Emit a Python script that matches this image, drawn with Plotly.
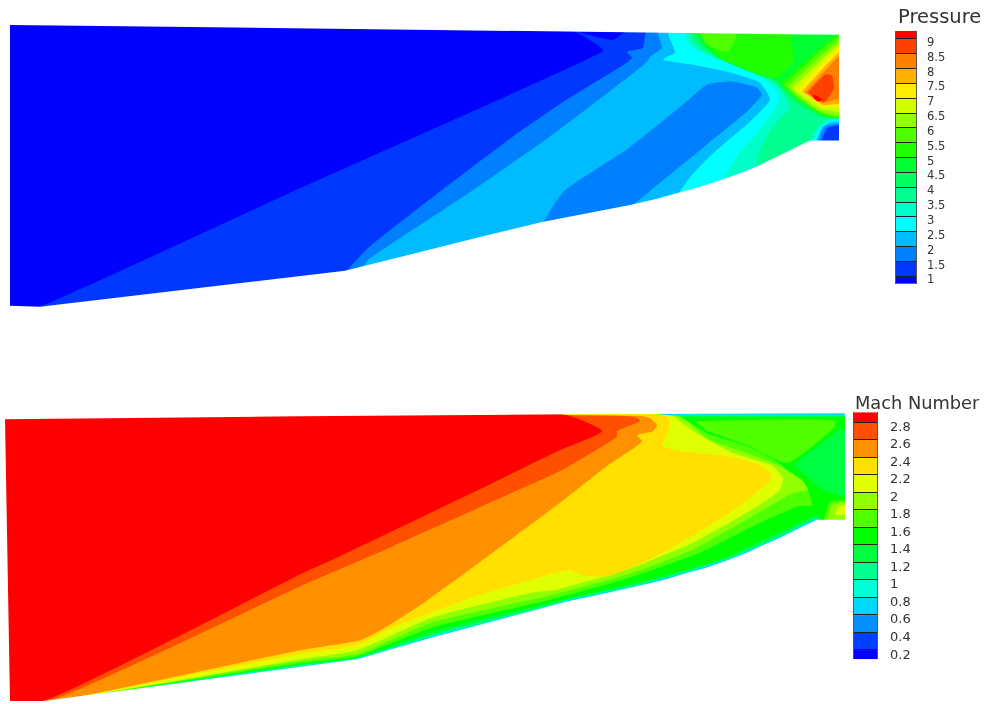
import plotly.graph_objects as go

# ---------- colour bars ----------
P_TICKS = [1, 1.5, 2, 2.5, 3, 3.5, 4, 4.5, 5, 5.5, 6, 6.5, 7, 7.5, 8, 8.5, 9]
P_TICK_TEXT = ["1", "1.5", "2", "2.5", "3", "3.5", "4", "4.5", "5", "5.5", "6", "6.5", "7", "7.5", "8", "8.5", "9"]
P_EDGES = [0.75] + P_TICKS + [9.27]
P_COLORS = ["#0000ff", "#0038ff", "#0080ff", "#00bcff", "#00ffff", "#00ffc8", "#00ff90", "#00ff60", "#00ff30",
            "#20ff00", "#50ff00", "#90ff00", "#d0ff00", "#ffee00", "#ffb000", "#ff8000", "#ff4000", "#ff0000"]
M_TICKS = [0.2, 0.4, 0.6, 0.8, 1, 1.2, 1.4, 1.6, 1.8, 2, 2.2, 2.4, 2.6, 2.8]
M_TICK_TEXT = ["0.2", "0.4", "0.6", "0.8", "1", "1.2", "1.4", "1.6", "1.8", "2", "2.2", "2.4", "2.6", "2.8"]
M_EDGES = [0.095] + M_TICKS + [2.913]
M_COLORS = ["#0000ff", "#0040ff", "#0090ff", "#00d8ff", "#00ffd8", "#00ff90", "#00ff40", "#00ff00",
            "#50ff00", "#90ff00", "#e0ff00", "#ffe000", "#ff9000", "#ff5000", "#ff0000"]

# ---------- nozzle outlines ----------
P_WALL = [(10, 25), (10, 307), (40, 308), (150, 295), (300, 277), (345, 272), (365, 267), (420, 253), (480, 238),
          (542, 223), (590, 214), (630, 206), (655, 200), (678, 194), (700, 187.5), (720, 181), (740, 174), (757, 167),
          (772, 160), (785, 153.5), (798, 147), (810, 141), (839, 141), (839, 35), (10, 25)]
M_WALL = [(5, 421), (10, 704), (43, 704), (150, 690), (300, 670), (357, 662), (433, 640), (547, 610), (567, 604),
          (600, 597), (637, 589), (662, 583), (685, 576), (707, 570), (727, 563), (747, 555), (764, 547), (778, 541),
          (790, 535), (804, 528), (817, 522), (845, 522), (845, 415), (575, 416), (300, 418), (5, 421)]

# ---------- pressure contour regions: (band, outline) painted low to high ----------
P_R01 = [(0, 0), (860, 0), (860, 330), (0, 330)]
P_R00 = [(0, 0), (572, 31), (603, 50), (602, 52), (300, 189), (40, 308), (0, 320)]
P_R00B = [(578, 32), (613, 40), (625, 32)]
P_R02 = [(345, 274), (367, 250), (443, 190), (513, 137), (567, 100), (628, 62), (632, 58), (627, 52), (643, 48),
         (647, 30), (860, 20), (860, 300), (345, 300)]
P_R03 = [(362, 270), (367, 262), (467, 195), (550, 137), (647, 62), (650, 57), (662, 48), (658, 30), (860, 20),
         (860, 300), (362, 300)]
P_R02B = [(542, 225), (563, 193), (627, 150), (683, 105), (707, 85), (733, 82), (757, 88), (762, 95), (747, 112),
          (707, 145), (630, 208)]
P_R04 = [(676, 198), (690, 178), (712, 155), (750, 122), (770, 100), (760, 83), (727, 72), (693, 65), (663, 60),
         (667, 57), (675, 53), (668, 30), (860, 20), (860, 300), (676, 300)]
P_R05 = [(722, 182), (740, 153), (760, 130), (780, 100), (776, 90), (762, 78), (733, 65), (700, 52), (688, 43),
         (685, 30), (860, 20), (860, 300), (722, 300)]
P_R06 = [(756, 170), (760, 150), (773, 127), (790, 108), (784, 95), (773, 80), (747, 70), (712, 57), (695, 45),
         (688, 30), (860, 20), (860, 300), (756, 300)]
P_R07 = [(690, 30), (700, 45), (717, 57), (750, 72), (778, 84), (790, 100), (800, 106), (820, 117), (860, 125),
         (860, 20), (690, 20)]
P_R08 = [(693, 30), (705, 47), (722, 60), (752, 73), (775, 80), (786, 90), (800, 100), (820, 112), (860, 118),
         (860, 20), (693, 20)]
P_R09 = [(697, 30), (710, 48), (725, 61), (755, 73), (777, 78), (793, 63), (790, 30), (790, 20), (697, 20)]
P_R10 = [(698, 30), (707, 45), (727, 52), (735, 40), (737, 30)]
P_H09 = [(780, 84), (838, 34), (860, 34), (860, 123), (820, 115), (797, 100)]
P_H10 = [(784, 85), (838, 37), (860, 37), (860, 121), (820, 113), (797, 98)]
P_H11 = [(788, 87), (840, 40), (860, 40), (860, 118), (820, 112), (797, 96)]
P_H12 = [(793, 88), (840, 44), (860, 44), (860, 114), (820, 109), (798, 94)]
P_H13 = [(798, 90), (840, 47), (860, 47), (860, 108), (822, 107)]
P_H14 = [(802, 92), (840, 52), (860, 52), (860, 103), (823, 106)]
P_H15 = [(805, 93), (840, 56), (860, 56), (860, 96), (825, 103)]
P_H16 = [(808, 93), (825, 75), (832, 76), (834, 88), (824, 103), (815, 100)]
P_H17 = [(813, 95), (818, 97), (822, 100), (818, 102), (814, 99)]
P_C05 = [(808, 145), (815, 132), (826, 120), (860, 118), (860, 145)]
P_C04 = [(812, 145), (818, 130), (827, 122), (860, 120), (860, 145)]
P_C03 = [(815, 145), (822, 128), (830, 123), (860, 121), (860, 145)]
P_C02 = [(817, 145), (825, 127), (860, 123), (860, 145)]
P_C01 = [(820, 145), (828, 128), (860, 125), (860, 145)]
P_REGIONS = [(1, P_R01), (0, P_R00), (0, P_R00B), (2, P_R02), (3, P_R03), (2, P_R02B), (4, P_R04), (5, P_R05),
             (6, P_R06), (7, P_R07), (8, P_R08), (9, P_R09), (10, P_R10), (9, P_H09), (10, P_H10), (11, P_H11),
             (12, P_H12), (13, P_H13), (14, P_H14), (15, P_H15), (16, P_H16), (17, P_H17),
             (5, P_C05), (4, P_C04), (3, P_C03), (2, P_C02), (1, P_C01)]

# ---------- Mach contour regions ----------
M_R03 = [(0, 390), (860, 390), (860, 704), (0, 704)]
M_R05 = [(0, 417), (300, 419), (575, 417), (860, 416.5), (860, 530), (817, 521), (790, 534), (764, 546), (727, 562),
         (685, 575), (637, 588), (567, 603), (547, 609), (433, 639), (357, 661), (300, 669), (43, 704), (0, 704)]
M_R06 = [(0, 418), (300, 420), (575, 418), (860, 417.5), (860, 530), (817, 520), (790, 533), (764, 545), (727, 561),
         (685, 574), (637, 587), (567, 602), (547, 608), (433, 637), (357, 661), (300, 668), (43, 704), (0, 704)]
M_R07 = [(0, 419), (575, 419), (860, 419), (860, 530), (820, 522), (817, 517), (790, 530), (760, 543), (727, 559),
         (693, 570), (637, 585), (547, 606), (433, 634), (357, 660), (300, 667), (46, 704), (0, 704)]
M_R08 = [(0, 419), (680, 418), (688, 423), (707, 435), (747, 448), (783, 468), (793, 482), (808, 493), (812, 508),
         (800, 508), (760, 525), (700, 555), (627, 581), (547, 603), (433, 630), (357, 659), (300, 666), (47, 704), (0, 704)]
M_R09 = [(0, 419), (677, 418), (687, 423), (710, 442), (747, 455), (780, 468), (803, 483), (808, 492), (793, 495),
         (753, 518), (693, 552), (627, 577), (550, 598), (433, 625), (357, 657), (300, 664), (48, 704), (0, 704)]
M_R10 = [(0, 419), (673, 418), (682, 425), (700, 437), (733, 455), (773, 468), (783, 480), (780, 492), (750, 513),
         (693, 545), (627, 572), (557, 592), (533, 595), (433, 620), (357, 653), (300, 662), (49, 704), (0, 704)]
M_R11 = [(0, 419), (667, 418), (670, 425), (667, 438), (662, 447), (673, 452), (727, 458), (760, 467), (772, 477),
         (770, 483), (740, 508), (693, 538), (647, 563), (607, 579), (583, 578), (570, 573), (557, 575), (467, 602),
         (400, 627), (357, 648), (300, 657), (50, 704), (0, 704)]
M_R12 = [(0, 419), (643, 418), (650, 420), (657, 427), (653, 433), (637, 437), (642, 443), (637, 448), (607, 468),
         (560, 505), (420, 608), (377, 635), (360, 643), (300, 653), (53, 704), (0, 704)]
M_R13 = [(0, 419), (627, 418), (638, 420), (640, 423), (617, 433), (617, 438), (560, 473), (545, 480), (367, 560),
         (300, 589), (48, 704), (0, 704)]
M_R14 = [(0, 419), (567, 417), (602, 433), (560, 452), (503, 480), (337, 560), (300, 577), (43, 704), (0, 704)]
M_R14B = [(595, 420), (612, 423), (620, 421)]
M_P08 = [(695, 423), (835, 423), (835, 428), (787, 465), (747, 447), (707, 433)]
M_P06 = [(793, 467), (837, 433), (860, 428), (860, 500), (823, 492), (797, 470)]
M_C08 = [(823, 525), (830, 504), (860, 502), (860, 525)]
M_C09 = [(827, 525), (832, 507), (860, 503), (860, 525)]
M_C10 = [(835, 517), (840, 508), (860, 507), (860, 517)]
M_REGIONS = [(3, M_R03), (5, M_R05), (6, M_R06), (7, M_R07), (8, M_R08), (9, M_R09), (10, M_R10), (11, M_R11),
             (12, M_R12), (13, M_R13), (14, M_R14), (13, M_R14B), (8, M_P08), (6, M_P06),
             (8, M_C08), (9, M_C09), (10, M_C10)]

# the page around each nozzle stays white
P_PAGE = [(0, 0), (851, 0), (851, 360), (0, 360), (0, 0)]
M_PAGE = [(0, 360), (851, 360), (851, 704), (0, 704), (0, 360)]

W, H = 987, 704
fig = go.Figure()


def near(a, b, d=3.0):
    dx, dy = b[0] - a[0], b[1] - a[1]
    n = (dx * dx + dy * dy) ** 0.5
    if n <= 2 * d:
        return None
    return (a[0] + dx / n * d, a[1] + dy / n * d)


def tighten(points):
    """Closing points beyond the nozzle stay in the white margin and keep sharp corners."""
    pts = [(min(p[0], 848), p[1]) for p in points]
    out = []
    for i, p in enumerate(pts):
        if points[i][0] >= 860:
            a = near(p, pts[i - 1])
            b = near(p, pts[(i + 1) % len(pts)])
            out += [q for q in (a, p, b) if q]
        else:
            out.append(p)
    return out


def add_poly(points, color, smooth=True):
    pts = tighten(points) if smooth else points
    fig.add_trace(go.Scatter(x=[p[0] for p in pts], y=[p[1] for p in pts], mode="lines", fill="toself",
                             fillcolor=color, hoverinfo="skip", showlegend=False,
                             line=dict(width=0, color=color, shape="spline" if smooth else "linear", smoothing=0.5)))


for band, outline in P_REGIONS:
    add_poly(outline, P_COLORS[band])
for band, outline in M_REGIONS:
    add_poly(outline, M_COLORS[band])
add_poly(P_PAGE + P_WALL + [P_PAGE[0]], "white", smooth=False)
add_poly(M_PAGE + M_WALL + [M_PAGE[0]], "white", smooth=False)


def stepped(edges, colors):
    lo, hi = edges[0], edges[-1]
    out = []
    for i, c in enumerate(colors):
        out.append([(edges[i] - lo) / (hi - lo), c])
        out.append([(edges[i + 1] - lo) / (hi - lo), c])
    return out


def colorbar(edges, colors, ticks, labels, px_box, label_drop, fs, standoff, axes):
    xa, ya, la = axes
    x0, x1, y0, y1 = px_box
    mids = [(edges[i] + edges[i + 1]) / 2 for i in range(len(colors))]
    fig.add_trace(go.Heatmap(x=[0, 1], y=edges, z=[[m] for m in mids], zmin=edges[0], zmax=edges[-1],
                             colorscale=stepped(edges, colors), showscale=False, hoverinfo="skip",
                             xaxis=xa, yaxis=ya))
    fig.update_layout({
        xa.replace("x", "xaxis"): dict(domain=[x0 / W, x1 / W], range=[0, 1], visible=False, anchor=ya),
        ya.replace("y", "yaxis"): dict(domain=[1 - y1 / H, 1 - y0 / H], range=[edges[0], edges[-1]], anchor=xa,
                                       tickvals=ticks, ticks="inside", ticklen=int(x1 - x0), tickwidth=1,
                                       tickcolor="#222", showticklabels=False, showgrid=False, zeroline=False,
                                       showline=True, linecolor="#555", linewidth=1, mirror=True, side="right"),
    })
    k = (edges[-1] - edges[0]) / (y1 - y0) * label_drop
    fig.update_layout({
        la.replace("y", "yaxis"): dict(domain=[1 - y1 / H, 1 - y0 / H], range=[edges[0] + k, edges[-1] + k],
                                       anchor=xa, overlaying=ya, side="right", tickvals=ticks, ticktext=labels,
                                       ticks="", showgrid=False, zeroline=False, showline=False,
                                       ticklabelstandoff=standoff,
                                       tickfont=dict(family="DejaVu Sans", size=fs, color="#333")),
    })
    fig.add_trace(go.Scatter(x=[None], y=[None], xaxis=xa, yaxis=la, showlegend=False, hoverinfo="skip"))


colorbar(P_EDGES, P_COLORS, P_TICKS, P_TICK_TEXT, (896, 916, 31, 285), 3, 11.5, 10, ("x2", "y2", "y3"))
colorbar(M_EDGES, M_COLORS, M_TICKS, M_TICK_TEXT, (854, 877, 414, 662), 4, 13, 12, ("x3", "y4", "y5"))

fig.add_annotation(text="Pressure", x=896 / W, y=1 - 16.5 / H, xref="paper", yref="paper", xanchor="left",
                   yanchor="middle", showarrow=False, font=dict(family="DejaVu Sans", size=19.5, color="#333"))
fig.add_annotation(text="Mach Number", x=853 / W, y=1 - 404 / H, xref="paper", yref="paper", xanchor="left",
                   yanchor="middle", showarrow=False, font=dict(family="DejaVu Sans", size=17.8, color="#333"))

fig.update_layout(
    width=W, height=H, margin=dict(l=0, r=0, t=0, b=0), plot_bgcolor="white", paper_bgcolor="white",
    xaxis=dict(range=[0, W], domain=[0, 1], visible=False),
    yaxis=dict(range=[H, 0], domain=[0, 1], visible=False),
    showlegend=False,
)
fig.write_html("out.html", config={"displayModeBar": False},
               post_script="document.body.style.margin='0';document.body.style.overflow='hidden';"
                           "document.querySelector('.plot-container').style.filter='blur(0.5px)';")
